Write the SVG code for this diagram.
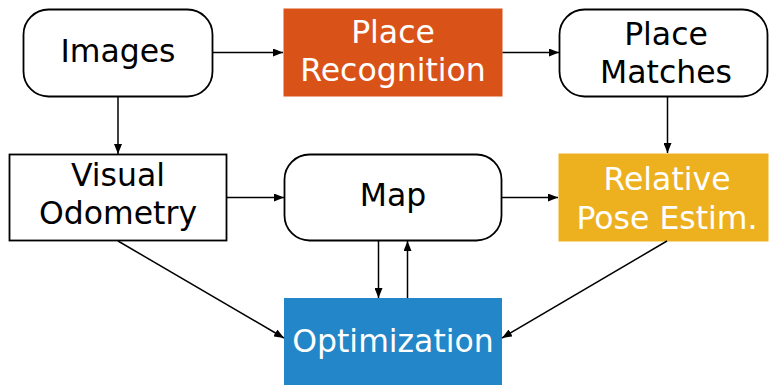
<svg xmlns="http://www.w3.org/2000/svg" width="769" height="385" viewBox="0 0 769 385">
<defs>
<marker id="ah" viewBox="0 0 10 8" refX="10" refY="4" markerWidth="10" markerHeight="8" markerUnits="userSpaceOnUse" orient="auto">
<path d="M0,0 L10,4 L0,8 z" fill="#000"/>
</marker>
<style>
.box{fill:#fff;stroke:#000;stroke-width:1.8}
.t{font-family:"DejaVu Sans",sans-serif;font-size:31.5px;text-anchor:middle;fill:#000}
.w{fill:#fff}
.c{fill:none;stroke:#000;stroke-width:1.5;marker-end:url(#ah)}
</style>
</defs>
<rect width="769" height="385" fill="#fff"/>
<g id="images"><rect class="box" x="23.5" y="9.5" width="189" height="87" rx="25"/><text class="t" x="118" y="62">Images</text></g>
<g id="place-recognition"><rect x="283.5" y="8.5" width="219" height="88" fill="#D95319"/><text class="t w" x="393" y="43">Place</text><text class="t w" x="393" y="81">Recognition</text></g>
<g id="place-matches"><rect class="box" x="559.5" y="9.5" width="208" height="87" rx="25"/><text class="t" x="666" y="45">Place</text><text class="t" x="666" y="83">Matches</text></g>
<g id="visual-odometry"><rect class="box" x="9.5" y="154.5" width="217" height="86"/><text class="t" x="118" y="186">Visual</text><text class="t" x="118" y="224">Odometry</text></g>
<g id="map"><rect class="box" x="284.5" y="154.5" width="217" height="86" rx="25"/><text class="t" x="393" y="206">Map</text></g>
<g id="relative-pose"><rect x="558.5" y="153.5" width="210" height="88" fill="#EDB120"/><text class="t w" x="667" y="190">Relative</text><text class="t w" x="667" y="229">Pose Estim.</text></g>
<g id="optimization"><rect x="284" y="298" width="218" height="87" fill="#2386C8"/><text class="t w" x="393" y="352">Optimization</text></g>
<g id="connectors">
<path class="c" d="M212.5,52.5 H283"/>
<path class="c" d="M502.5,52.5 H559"/>
<path class="c" d="M118,97 V154"/>
<path class="c" d="M667.5,97 V153"/>
<path class="c" d="M227,197.5 H284"/>
<path class="c" d="M502,197.5 H558"/>
<path class="c" d="M378.5,241 V298"/>
<path class="c" d="M407.5,298 V241"/>
<path class="c" d="M118,241 L284,338"/>
<path class="c" d="M667,241 L502,338"/>
</g>
</svg>
